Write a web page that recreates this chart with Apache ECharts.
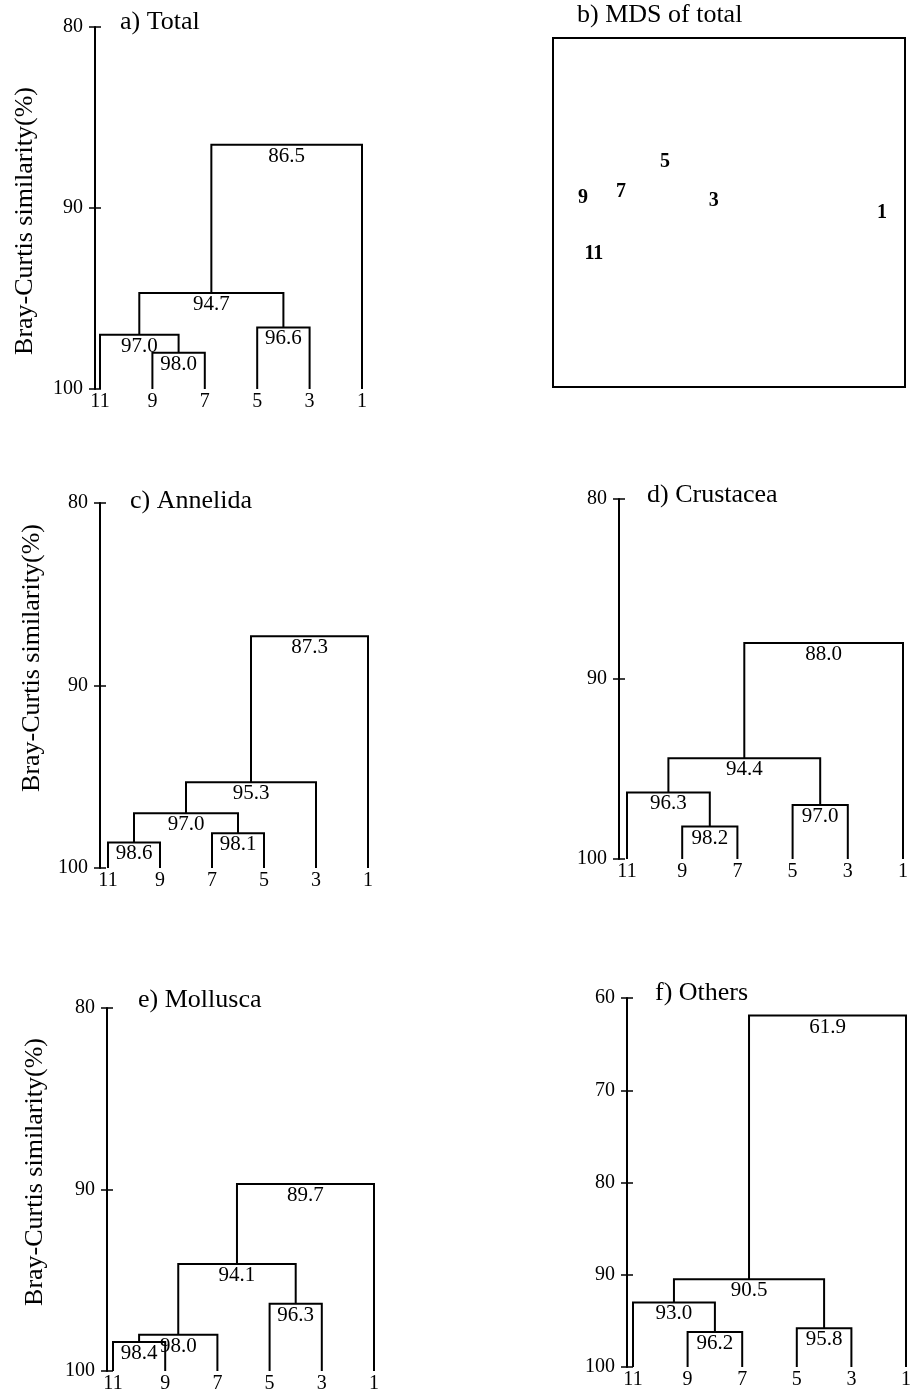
<!DOCTYPE html>
<html><head><meta charset="utf-8">
<script src="https://cdn.jsdelivr.net/npm/echarts@6/dist/echarts.min.js"></script>
<style>html,body{margin:0;padding:0;background:#fff}#c{width:914px;height:1394px}</style>
</head><body><div id="c"></div>
<script>
// ---------- data ----------
const leaves = ['11', '9', '7', '5', '3', '1'];

// each link joins two nodes: a leaf label or '#k' (the k-th merge)
const totalLinks = [['9', '7'], ['11', '#0'], ['5', '3'], ['#1', '#2'], ['#3', '1']];
const totalSim = [98.0, 97.0, 96.6, 94.7, 86.5];

const annelidaLinks = [['11', '9'], ['7', '5'], ['#0', '#1'], ['#2', '3'], ['#3', '1']];
const annelidaSim = [98.6, 98.1, 97.0, 95.3, 87.3];

const crustaceaLinks = [['9', '7'], ['11', '#0'], ['5', '3'], ['#1', '#2'], ['#3', '1']];
const crustaceaSim = [98.2, 96.3, 97.0, 94.4, 88.0];

const molluscaLinks = [['11', '9'], ['#0', '7'], ['5', '3'], ['#1', '#2'], ['#3', '1']];
const molluscaSim = [98.4, 98.0, 96.3, 94.1, 89.7];

const othersLinks = [['9', '7'], ['11', '#0'], ['5', '3'], ['#1', '#2'], ['#3', '1']];
const othersSim = [96.2, 93.0, 95.8, 90.5, 61.9];

const mdsLabels = ['5', '9', '7', '3', '1', '11'];
const mdsX = [31.8, 8.5, 19.3, 45.7, 93.5, 11.6];
const mdsY = [64.5, 54.2, 55.9, 53.3, 49.9, 38.1];

const yTitle = 'Bray-Curtis similarity(%)';
const panelTitles = ['a) Total', 'b) MDS of total', 'c) Annelida', 'd) Crustacea', 'e) Mollusca', 'f) Others'];

// ---------- build ----------
const FONT = 'Liberation Serif';
function tree(links, sims) {
  const nodes = {};
  leaves.forEach((l, i) => nodes[l] = { x: i, h: 100 });
  const segs = [], labels = [];
  links.forEach((lk, k) => {
    const a = nodes[lk[0]], b = nodes[lk[1]], h = sims[k];
    segs.push({ coords: [[a.x, a.h], [a.x, h], [b.x, h], [b.x, b.h]] });
    const x = (a.x + b.x) / 2;
    labels.push([x, h, sims[k]]);
    nodes['#' + k] = { x: x, h: h };
  });
  return { segs, labels };
}

const panels = [
  { links: totalLinks, sims: totalSim, min: 80, grid: { left: 100, top: 27, width: 262, height: 362 }, offset: 5 },
  { links: annelidaLinks, sims: annelidaSim, min: 80, grid: { left: 108, top: 503, width: 260, height: 365 }, offset: 8 },
  { links: crustaceaLinks, sims: crustaceaSim, min: 80, grid: { left: 627, top: 499, width: 276, height: 360 }, offset: 8 },
  { links: molluscaLinks, sims: molluscaSim, min: 80, grid: { left: 113, top: 1008, width: 261, height: 363 }, offset: 6 },
  { links: othersLinks, sims: othersSim, min: 60, grid: { left: 633, top: 998, width: 279, height: 369 }, offset: 6 }
];

const grid = [], xAxis = [], yAxis = [], series = [];
panels.forEach((p, gi) => {
  const t = tree(p.links, p.sims);
  grid.push(Object.assign({}, p.grid));
  xAxis.push({
    gridIndex: gi, type: 'value', min: 0, max: 5, interval: 1,
    axisLine: { show: false }, axisTick: { show: false }, splitLine: { show: false },
    axisLabel: { formatter: v => leaves[v], fontFamily: FONT, fontSize: 20, color: '#000', margin: 3 }
  });
  const yMain = {
    gridIndex: gi, type: 'value', position: 'left', inverse: true, min: p.min, max: 100, interval: 10, offset: p.offset,
    axisLine: { show: true, onZero: false, lineStyle: { color: '#000', width: 2 } },
    axisTick: { show: true, length: 6, lineStyle: { color: '#000', width: 1.5 } },
    splitLine: { show: false },
    axisLabel: { fontFamily: FONT, fontSize: 20, color: '#000', margin: 12 }
  };
  const yInner = {
    gridIndex: gi, type: 'value', position: 'left', inverse: true, min: p.min, max: 100, interval: 10, offset: p.offset,
    axisLine: { show: false, onZero: false },
    axisTick: { show: true, inside: true, length: 6, lineStyle: { color: '#000', width: 1.5 } },
    splitLine: { show: false }, axisLabel: { show: false }
  };
  const xi = xAxis.length - 1;
  yAxis.push(yMain); const yi = yAxis.length - 1;
  yAxis.push(yInner);
  series.push({
    type: 'lines', coordinateSystem: 'cartesian2d', xAxisIndex: xi, yAxisIndex: yi,
    polyline: true, silent: true,
    lineStyle: { color: '#000', width: 2, opacity: 1 },
    data: t.segs
  });
  series.push({
    type: 'scatter', xAxisIndex: xi, yAxisIndex: yi, symbolSize: 0, silent: true,
    itemStyle: { color: '#000', opacity: 1 },
    data: t.labels,
    label: { show: true, position: 'bottom', distance: 1, formatter: q => q.value[2].toFixed(1),
      fontFamily: FONT, fontSize: 21, color: '#000', opacity: 1, textBorderWidth: 0 }
  });
});

// MDS panel
grid.push({ left: 553, top: 38, width: 352, height: 349, show: true, borderColor: '#000', borderWidth: 2, backgroundColor: 'transparent' });
const mg = grid.length - 1;
xAxis.push({ gridIndex: mg, type: 'value', min: 0, max: 100, show: false });
yAxis.push({ gridIndex: mg, type: 'value', min: 0, max: 100, show: false });
series.push({
  type: 'scatter', xAxisIndex: xAxis.length - 1, yAxisIndex: yAxis.length - 1, symbolSize: 0, silent: true,
  itemStyle: { color: '#000', opacity: 1 },
  data: mdsLabels.map((n, i) => ({ name: n, value: [mdsX[i], mdsY[i]] })),
  label: { show: true, position: 'inside', formatter: '{b}', fontFamily: FONT, fontSize: 20, fontWeight: 'bold',
    color: '#000', opacity: 1, textBorderWidth: 0 }
});

const titlePos = [[120, 9], [577, 2], [130, 488], [647, 482], [138, 987], [655, 980]];
const title = panelTitles.map((s, i) => ({
  text: s, left: titlePos[i][0], top: titlePos[i][1], padding: 0,
  textStyle: { fontFamily: FONT, fontSize: 26, fontWeight: 'normal', color: '#000' }
}));

const yTitlePos = [[25, 221], [32, 658], [35, 1172]];
const graphic = yTitlePos.map(pt => ({
  type: 'text', x: pt[0], y: pt[1], rotation: Math.PI / 2,
  style: { text: yTitle, font: '26px "Liberation Serif"', fill: '#000',
    align: 'center', verticalAlign: 'middle', textAlign: 'center', textVerticalAlign: 'middle' }
}));

const chart = echarts.init(document.getElementById('c'));
chart.setOption({
  animation: false, backgroundColor: '#fff',
  title, grid, xAxis, yAxis, series, graphic
});
</script></body></html>
